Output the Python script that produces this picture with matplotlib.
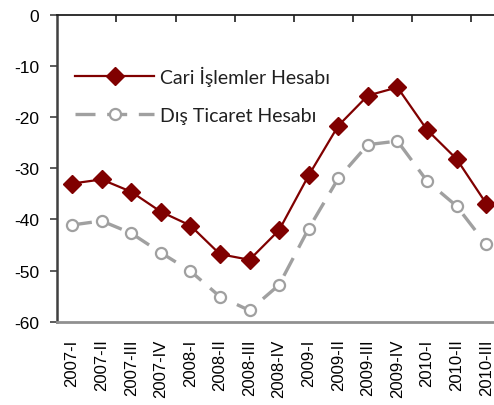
import numpy as np
import matplotlib
matplotlib.use('Agg')
import matplotlib.pyplot as plt

quarters = ['2007-I', '2007-II', '2007-III', '2007-IV',
            '2008-I', '2008-II', '2008-III', '2008-IV',
            '2009-I', '2009-II', '2009-III', '2009-IV',
            '2010-I', '2010-II', '2010-III']
cari = [-33.0, -32.2, -34.6, -38.5, -41.2, -46.8, -47.9, -42.1,
        -31.4, -21.7, -15.8, -14.2, -22.5, -28.2, -36.9]
dis_ticaret = [-41.1, -40.3, -42.7, -46.5, -50.1, -55.1, -57.8, -52.8,
               -41.8, -32.0, -25.4, -24.7, -32.5, -37.4, -44.9]
yticks = [0, -10, -20, -30, -40, -50, -60]

W, H = 494, 406
fig = plt.figure(figsize=(W / 100, H / 100), dpi=100)
ax = fig.add_axes([57.2 / W, 83.3 / H, (501 - 57.2) / W, 307 / H])

x = np.arange(len(quarters))
ax.plot(x, cari, color='#800000', lw=1.6, marker='D', ms=9,
        mfc='#800000', mec='#800000', label='Cari İşlemler Hesabı', zorder=3)
ax.plot(x, dis_ticaret, color='#a0a0a0', lw=2.4, dashes=(6, 3.5), marker='o', ms=8,
        mfc='white', mec='#a0a0a0', mew=1.6, label='Dış Ticaret Hesabı', zorder=2)

ax.set_xlim(-0.5, len(quarters) - 0.5)
ax.set_ylim(-60, 0)

ax.set_xticks(x)
ax.set_xticklabels(quarters, rotation=90, fontsize=12, family='Liberation Sans')
ax.tick_params(axis='x', which='major', length=0, pad=12)
ax.set_xticks(np.arange(1.5, len(quarters) - 0.5, 2), minor=True)
ax.tick_params(axis='x', which='minor', top=True, bottom=False, direction='in',
               length=5, width=1.2, color='#202020')

ax.set_yticks(yticks)
ax.set_yticklabels([str(v) for v in yticks], fontsize=12.5, family='Liberation Sans')
ax.tick_params(axis='y', direction='out', length=5, width=1.2, pad=8, color='#404040')

ax.spines['right'].set_visible(False)
ax.spines['top'].set_color('#202020')
ax.spines['top'].set_linewidth(1.3)
ax.spines['left'].set_color('#404040')
ax.spines['left'].set_linewidth(1.8)
ax.spines['bottom'].set_color('#909090')
ax.spines['bottom'].set_linewidth(2)

leg = ax.legend(loc='upper left', bbox_to_anchor=(0.0, 0.89), frameon=False,
                numpoints=1, handlelength=4.1, handletextpad=0.28,
                labelspacing=1.05, prop={'family': 'Lato', 'size': 14})
for t in leg.get_texts():
    t.set_color('#202020')

fig.savefig('out.png', dpi=100)
